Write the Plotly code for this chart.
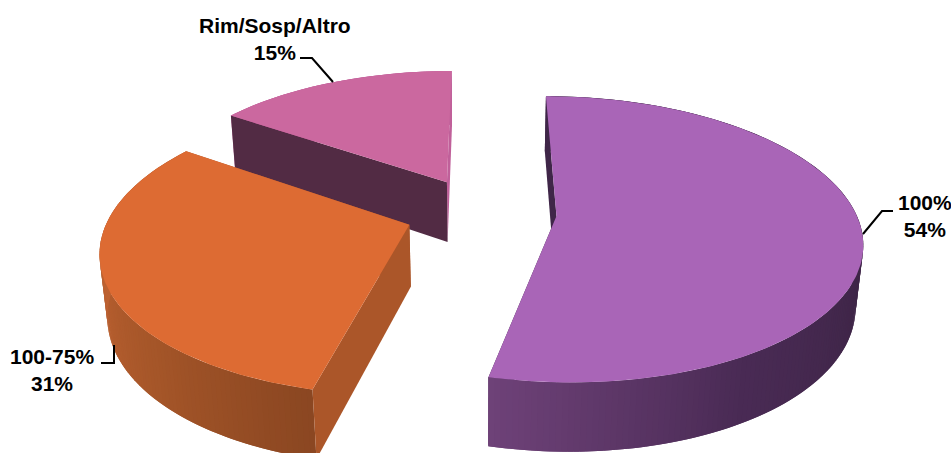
import math
import plotly.graph_objects as go

categories = ["100%", "100-75%", "Rim/Sosp/Altro"]
shares = [53.7, 30.85, 15.45]

top_colors = ["#A965B7", "#DD6B33", "#CB689F"]
start_wall_colors = ["#3F2648", "#AB5629", "#522B44"]
end_wall_colors = ["#3F2648", "#AB5629", "#C0609A"]
# rim shading, from the slice's start angle to its end angle
rim_colors = [
    [(0, "#3F2648"), (110, "#3F2648"), (150, "#4A2B55"), (194, "#70437A")],
    [(193, "#8B4722"), (225, "#A55629"), (260, "#BD6232"), (305, "#C06332")],
    [(304, "#C0609A"), (360, "#C0609A")],
]

# pie geometry in pixels, tilted view with a slight perspective
CX, CY = 481, 212
RX, RY = 299, 138
DEPTH = 62.5
PERSP = 0.162
PERSP_Z = 0.02
EXPLODE = 0.253


def project(px, py, z=0):
    w = 1 - PERSP * py + PERSP_Z * z
    return CX + RX * px / w, CY + (RY * py + DEPTH * z) / w


def mix(stops, ang):
    for (a0, c0), (a1, c1) in zip(stops, stops[1:]):
        if a0 <= ang <= a1:
            t = (ang - a0) / (a1 - a0)
            rgb = [int(c0[i:i + 2], 16) * (1 - t) + int(c1[i:i + 2], 16) * t for i in (1, 3, 5)]
            return "rgb(%d,%d,%d)" % tuple(rgb)
    return stops[-1][1]


fig = go.Figure()


def poly(points, color):
    fig.add_trace(go.Scatter(
        x=[p[0] for p in points] + [points[0][0]],
        y=[p[1] for p in points] + [points[0][1]],
        mode="lines", fill="toself", fillcolor=color,
        line=dict(color=color, width=0),
        hoverinfo="skip", showlegend=False,
    ))


def draw_slice(i, a0, a1):
    mid = math.radians((a0 + a1) / 2)
    ox, oy = EXPLODE * math.sin(mid), -EXPLODE * math.cos(mid)

    def rim(ang, z=0):
        t = math.radians(ang)
        return project(ox + math.sin(t), oy - math.cos(t), z)

    apex = project(ox, oy)
    apex_low = project(ox, oy, 1)
    poly([apex, rim(a1), rim(a1, 1), apex_low], end_wall_colors[i])

    n = int(a1 - a0)
    steps = [a0 + (a1 - a0) * k / n for k in range(n + 1)]
    # each strip runs under the next one so no seams show
    for k in range(n):
        s0, s1 = steps[k], steps[min(k + 2, n)]
        poly([rim(s0), rim(s1), rim(s1, 1), rim(s0, 1)], mix(rim_colors[i], steps[k]))

    poly([apex, rim(a0), rim(a0, 1), apex_low], start_wall_colors[i])
    poly([apex] + [rim(s) for s in steps], top_colors[i])


angles = [0]
for s in shares:
    angles.append(angles[-1] + s * 360 / sum(shares))

# back to front
for i in (2, 1, 0):
    draw_slice(i, angles[i], angles[i + 1])

# leader lines
leaders = [
    ([893, 882, 863], [211, 211, 234]),
    ([101, 114, 114], [363, 363, 345]),
    ([300, 312, 333], [58, 58, 82]),
]
for lx, ly in leaders:
    fig.add_trace(go.Scatter(x=lx, y=ly, mode="lines", line=dict(color="#000000", width=2),
                             hoverinfo="skip", showlegend=False))

label_pos = [(925, 216), (52, 370), (275, 39)]
for i, (lx, ly) in enumerate(label_pos):
    fig.add_annotation(x=lx, y=ly, text=f"<b>{categories[i]}<br>{round(shares[i])}%</b>", showarrow=False,
                       font=dict(family="Liberation Sans", size=21, color="#000000"),
                       align="center", xanchor="center", yanchor="middle")

fig.update_layout(
    width=951, height=453,
    margin=dict(l=0, r=0, t=0, b=0),
    paper_bgcolor="white", plot_bgcolor="white",
    xaxis=dict(range=[0, 951], visible=False, fixedrange=True),
    yaxis=dict(range=[453, 0], visible=False, fixedrange=True),
)
fig.write_html("out.html", post_script="document.body.style.margin='0';", config={"displayModeBar": False})
